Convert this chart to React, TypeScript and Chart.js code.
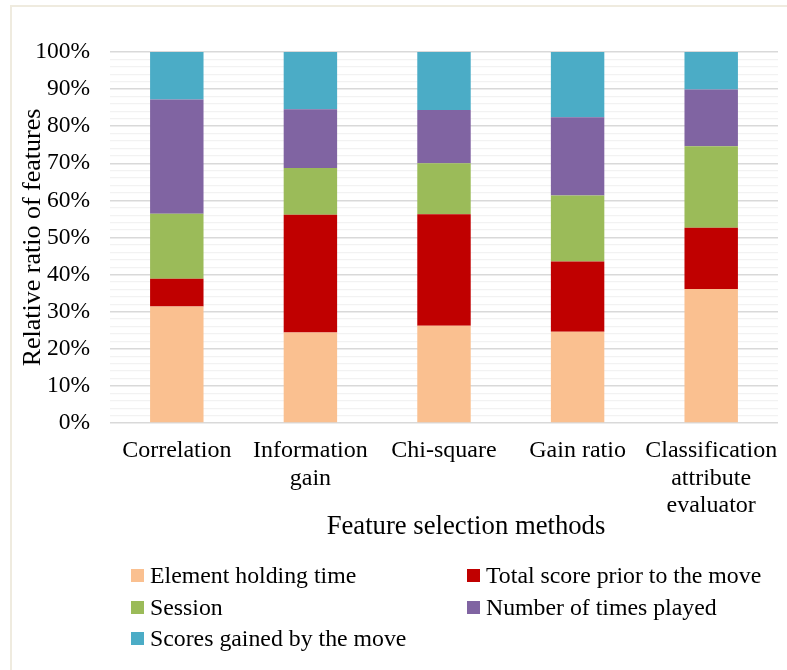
import React, { useEffect, useRef } from "react";
import { Chart, registerables } from "chart.js";

Chart.register(...registerables);

const categories: string[][] = [
  ["Correlation"],
  ["Information", "gain"],
  ["Chi-square"],
  ["Gain ratio"],
  ["Classification", "attribute", "evaluator"],
];

const seriesNames = [
  "Element holding time",
  "Total score prior to the move",
  "Session",
  "Number of times played",
  "Scores gained by the move",
];

const elementHoldingTime = [31.4, 24.4, 26.2, 24.6, 36.1];
const totalScorePrior = [7.5, 31.7, 30.1, 18.9, 16.5];
const session = [17.5, 12.6, 13.7, 17.8, 22.0];
const timesPlayed = [30.8, 15.9, 14.4, 21.1, 15.3];
const scoresGained = [12.8, 15.4, 15.6, 17.6, 10.1];

const seriesColors = ["#FAC090", "#C00000", "#9BBB59", "#8064A2", "#4BACC6"];

const yTickValues = [0, 10, 20, 30, 40, 50, 60, 70, 80, 90, 100];

const xTitle = "Feature selection methods";
const yTitle = "Relative ratio of features";

const FONT = "'Liberation Serif', 'Times New Roman', serif";

export default function App() {
  const ref = useRef<HTMLCanvasElement | null>(null);

  useEffect(() => {
    if (!ref.current) return;
    const seriesValues = [elementHoldingTime, totalScorePrior, session, timesPlayed, scoresGained];
    const chart = new Chart(ref.current, {
      type: "bar",
      data: {
        labels: categories,
        datasets: seriesNames.map((name, i) => ({
          label: name,
          data: seriesValues[i],
          backgroundColor: seriesColors[i],
          borderWidth: 0,
          barPercentage: 0.4,
          categoryPercentage: 1,
        })),
      },
      options: {
        animation: false,
        responsive: false,
        maintainAspectRatio: false,
        layout: { padding: { left: 20, right: 9, top: 52, bottom: 0 } },
        plugins: {
          legend: { display: false },
          tooltip: { enabled: false },
        },
        scales: {
          x: {
            stacked: true,
            grid: { display: false, drawTicks: false },
            border: { display: false },
            ticks: {
              color: "#000",
              font: { family: FONT, size: 24, lineHeight: 1.15 },
              padding: 14,
              maxRotation: 0,
              autoSkip: false,
            },
            afterFit: (scale: any) => {
              scale.height = 247;
              scale.paddingLeft = 0;
              scale.paddingRight = 0;
            },
          },
          y: {
            stacked: true,
            min: 0,
            max: 100,
            grid: {
              drawTicks: false,
              color: (ctx: any) =>
                yTickValues.includes(ctx.tick?.value) ? "#d9d9d9" : "#f2f2f2",
              lineWidth: (ctx: any) => (yTickValues.includes(ctx.tick?.value) ? 1.6 : 1.3),
            },
            border: { display: false },
            ticks: {
              stepSize: 2,
              autoSkip: false,
              color: "#000",
              font: { family: FONT, size: 23.5 },
              padding: 20,
              callback: (v: any) => (yTickValues.includes(Number(v)) ? v + "%" : ""),
            },
            title: {
              display: true,
              text: yTitle,
              color: "#000",
              font: { family: FONT, size: 26, lineHeight: 1 },
              padding: { top: 0, bottom: 0 },
            },
            afterFit: (scale: any) => {
              scale.width = 90;
            },
          },
        },
      },
    });
    return () => chart.destroy();
  }, []);

  const legendPos = [
    { x: 131, y: 575 },
    { x: 467, y: 575 },
    { x: 131, y: 607 },
    { x: 467, y: 607 },
    { x: 131, y: 638 },
  ];

  return (
    <div
      style={{
        position: "absolute",
        left: 0,
        top: 0,
        width: 787,
        height: 670,
        overflow: "hidden",
        background: "#fff",
        fontFamily: FONT,
        color: "#000",
      }}
    >
      <div
        style={{
          position: "absolute",
          left: 10,
          top: 5,
          width: 800,
          height: 700,
          border: "2px solid #efebdf",
        }}
      />
      <canvas
        ref={ref}
        width={787}
        height={670}
        style={{ position: "absolute", left: 0, top: 0, width: 787, height: 670 }}
      />
      <div
        style={{
          position: "absolute",
          left: 466 - 200,
          width: 400,
          top: 525 - 15,
          height: 30,
          lineHeight: "30px",
          textAlign: "center",
          fontSize: 26.7,
          whiteSpace: "nowrap",
        }}
      >
        {xTitle}
      </div>
      {seriesNames.map((name, i) => (
        <div
          key={name}
          style={{
            position: "absolute",
            left: legendPos[i].x,
            top: legendPos[i].y - 14,
            height: 28,
            display: "flex",
            alignItems: "center",
            whiteSpace: "nowrap",
            fontSize: 23.8,
          }}
        >
          <span
            style={{
              display: "inline-block",
              width: 13,
              height: 13,
              background: seriesColors[i],
              marginRight: 6,
            }}
          />
          <span>{name}</span>
        </div>
      ))}
    </div>
  );
}
